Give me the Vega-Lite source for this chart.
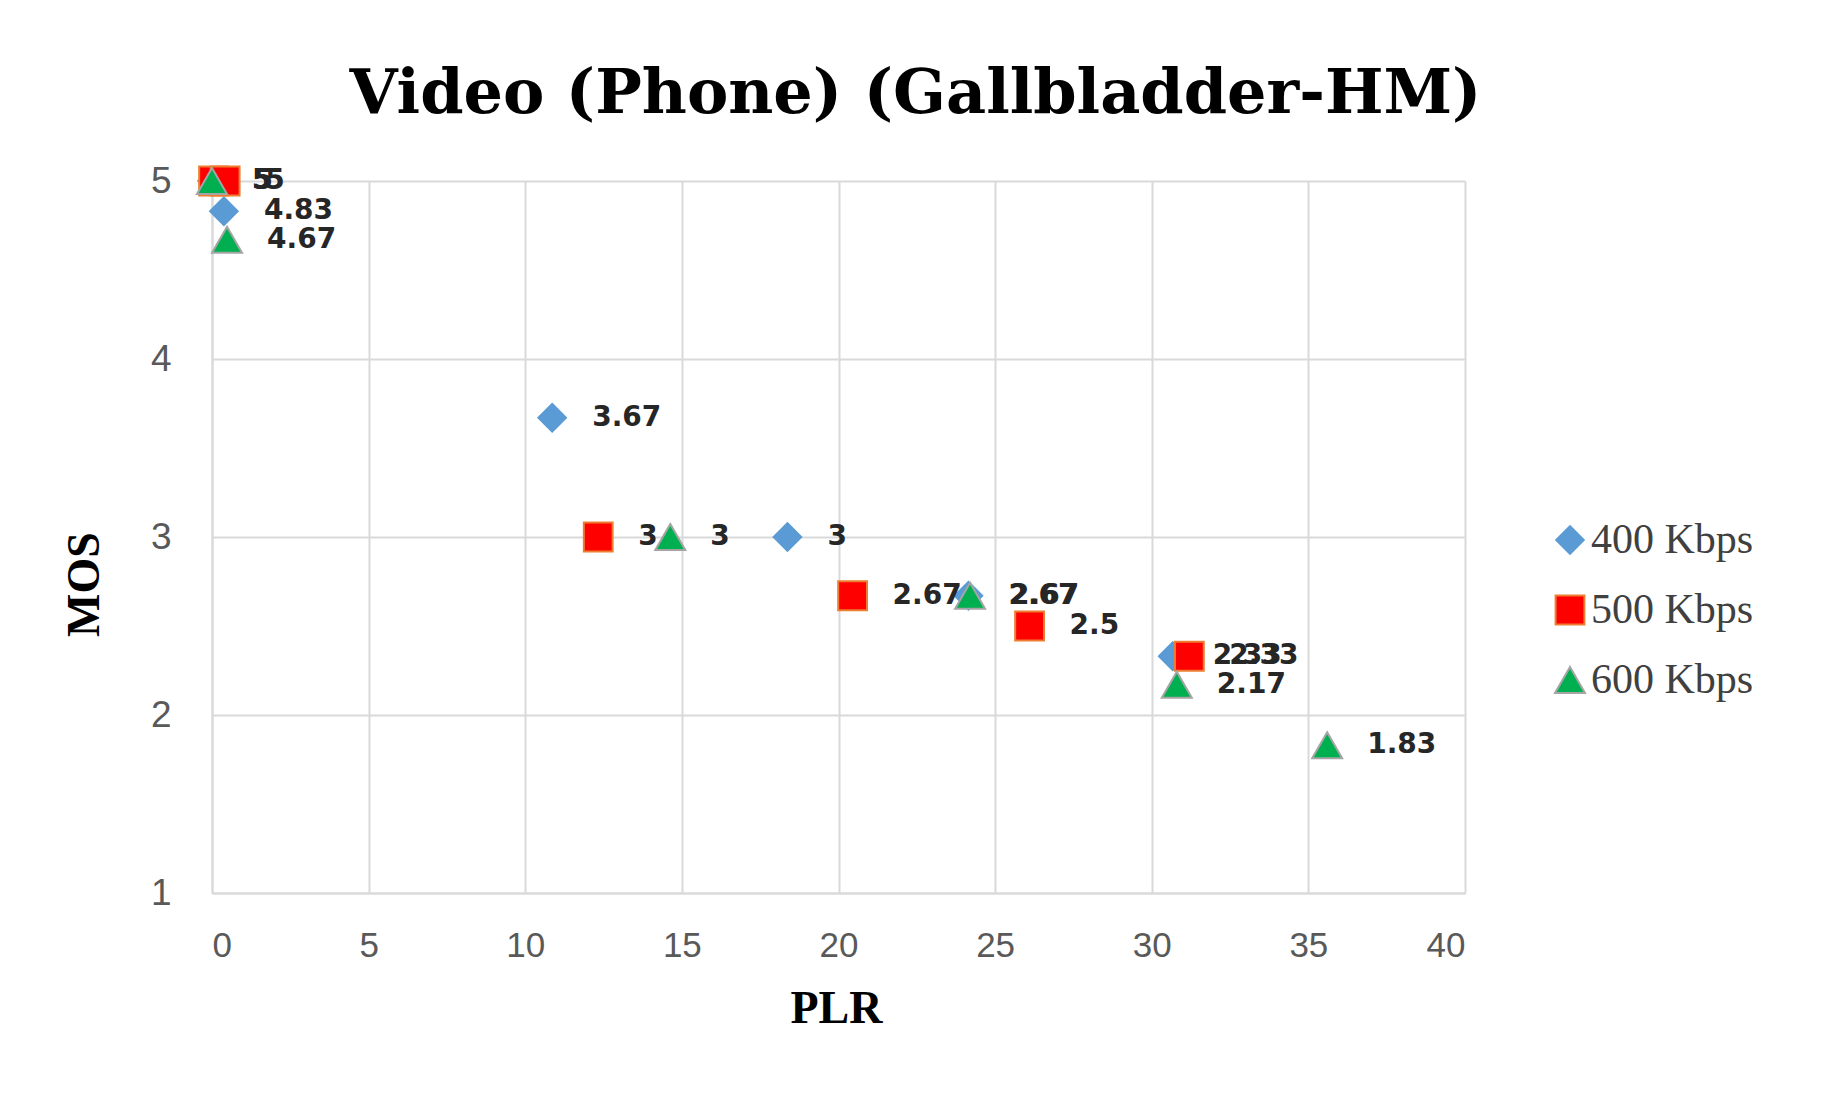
{
  "$schema": "https://vega.github.io/schema/vega-lite/v6.json",
  "width": 1253,
  "height": 712,
  "autosize": "none",
  "padding": {"left": 212, "top": 181, "right": 362, "bottom": 217},
  "background": "white",
  "title": {
    "text": "Video (Phone) (Gallbladder-HM)",
    "font": "DejaVu Serif",
    "fontWeight": "bold",
    "fontSize": 62,
    "color": "#000000",
    "anchor": "middle",
    "dx": 77,
    "dy": 76,
    "baseline": "alphabetic",
    "offset": 63
  },
  "data": {
    "values": [
      {"Series": "400 Kbps", "PLR": 0.0, "MOS": 5},
      {"Series": "400 Kbps", "PLR": 0.38, "MOS": 4.83},
      {"Series": "400 Kbps", "PLR": 10.86, "MOS": 3.67},
      {"Series": "400 Kbps", "PLR": 18.37, "MOS": 3},
      {"Series": "400 Kbps", "PLR": 24.15, "MOS": 2.67},
      {"Series": "400 Kbps", "PLR": 30.67, "MOS": 2.33},
      {"Series": "500 Kbps", "PLR": 0.05, "MOS": 5},
      {"Series": "500 Kbps", "PLR": 0.42, "MOS": 5},
      {"Series": "500 Kbps", "PLR": 12.33, "MOS": 3},
      {"Series": "500 Kbps", "PLR": 20.45, "MOS": 2.67},
      {"Series": "500 Kbps", "PLR": 26.1, "MOS": 2.5},
      {"Series": "500 Kbps", "PLR": 31.2, "MOS": 2.33},
      {"Series": "600 Kbps", "PLR": 0.0, "MOS": 5},
      {"Series": "600 Kbps", "PLR": 0.48, "MOS": 4.67},
      {"Series": "600 Kbps", "PLR": 14.63, "MOS": 3},
      {"Series": "600 Kbps", "PLR": 24.2, "MOS": 2.67},
      {"Series": "600 Kbps", "PLR": 30.8, "MOS": 2.17},
      {"Series": "600 Kbps", "PLR": 35.6, "MOS": 1.83}
    ]
  },
  "encoding": {
    "x": {
      "field": "PLR",
      "type": "quantitative",
      "scale": {"domain": [0, 40], "nice": false, "zero": false},
      "axis": {
        "title": "PLR",
        "values": [0, 5, 10, 15, 20, 25, 30, 35, 40],
        "grid": true,
        "gridColor": "#D9D9D9",
        "gridWidth": 2,
        "domain": true,
        "domainColor": "#D9D9D9",
        "domainWidth": 2,
        "ticks": false,
        "labelPadding": 35,
        "labelBaseline": "top",
        "labelFont": "Liberation Sans",
        "labelFontSize": 35,
        "labelColor": "#595959",
        "titleFont": "Liberation Serif",
        "titleFontWeight": "bold",
        "titleFontSize": 46,
        "titleColor": "#000000",
        "titleX": 624,
        "titleY": 115,
        "titleBaseline": "middle",
        "titleAlign": "center"
      }
    },
    "y": {
      "field": "MOS",
      "type": "quantitative",
      "scale": {"domain": [1, 5], "nice": false, "zero": false},
      "axis": {
        "title": "MOS",
        "values": [1, 2, 3, 4, 5],
        "grid": true,
        "gridColor": "#D9D9D9",
        "gridWidth": 2,
        "domain": true,
        "domainColor": "#D9D9D9",
        "domainWidth": 2,
        "ticks": false,
        "labelPadding": 41,
        "labelFont": "Liberation Sans",
        "labelFontSize": 37,
        "labelColor": "#595959",
        "titleFont": "Liberation Serif",
        "titleFontWeight": "bold",
        "titleFontSize": 46,
        "titleColor": "#000000",
        "titleAngle": -90,
        "titleX": -128,
        "titleY": 403,
        "titleBaseline": "middle",
        "titleAlign": "center"
      }
    }
  },
  "layer": [
    {
      "mark": {"type": "point", "filled": true, "strokeWidth": 2, "opacity": 1},
      "encoding": {
        "shape": {
          "field": "Series",
          "type": "nominal",
          "scale": {"domain": ["400 Kbps", "500 Kbps", "600 Kbps"], "range": ["diamond", "square", "triangle-up"]},
          "legend": {
            "title": null,
            "orient": "none",
            "legendX": 1337,
            "legendY": 338,
            "padding": 0,
            "symbolStrokeWidth": 2,
            "labelFont": "Liberation Serif",
            "labelFontSize": 42,
            "labelColor": "#404040",
            "labelOffset": 0,
            "labelLimit": 400,
            "rowPadding": 28
          }
        },
        "fill": {
          "field": "Series",
          "type": "nominal",
          "scale": {"domain": ["400 Kbps", "500 Kbps", "600 Kbps"], "range": ["#5B9BD5", "#FF0000", "#00B050"]}
        },
        "stroke": {
          "field": "Series",
          "type": "nominal",
          "scale": {"domain": ["400 Kbps", "500 Kbps", "600 Kbps"], "range": ["#5B9BD5", "#ED7D31", "#A5A5A5"]}
        },
        "size": {
          "field": "Series",
          "type": "nominal",
          "scale": {"domain": ["400 Kbps", "500 Kbps", "600 Kbps"], "range": [760, 900, 680]}
        }
      }
    },
    {
      "mark": {
        "type": "text",
        "align": "left",
        "baseline": "middle",
        "dx": 40,
        "font": "DejaVu Sans",
        "fontWeight": "bold",
        "fontSize": 28,
        "color": "#262626"
      },
      "encoding": {
        "text": {"field": "MOS", "type": "quantitative", "format": "~g"}
      }
    }
  ],
  "config": {
    "view": {"stroke": null}
  }
}
